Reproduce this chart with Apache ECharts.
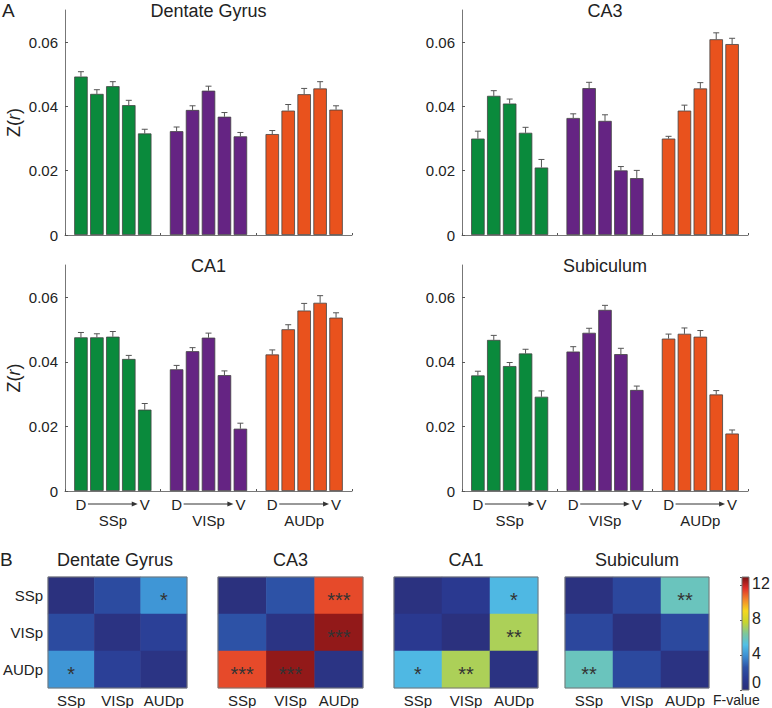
<!DOCTYPE html>
<html><head><meta charset="utf-8">
<script src="https://cdn.jsdelivr.net/npm/echarts@6/dist/echarts.min.js"></script>
<style>html,body{margin:0;padding:0;background:#fff}#c{width:772px;height:708px}</style>
</head><body><div id="c"></div>
<script>
// ---------- data ----------
const regions = ['Dentate Gyrus', 'CA3', 'CA1', 'Subiculum'];
const groups = ['SSp', 'VISp', 'AUDp'];
const barX = [1, 2, 3, 4, 5, 7, 8, 9, 10, 11, 13, 14, 15, 16, 17];
const groupSpan = [[1, 5, 3], [7, 11, 9], [13, 17, 15]];
const yTicks = [0, 0.02, 0.04, 0.06];

const dgMean = [0.0493, 0.0439, 0.0463, 0.0404, 0.0316, 0.0323, 0.0389, 0.0449, 0.0368, 0.0307, 0.0314, 0.0387, 0.0438, 0.0456, 0.0390];
const dgErr = [0.0015, 0.0013, 0.0014, 0.0015, 0.0013, 0.0013, 0.0013, 0.0014, 0.0013, 0.0012, 0.0011, 0.0019, 0.0018, 0.0021, 0.0012];
const ca3Mean = [0.0300, 0.0433, 0.0409, 0.0318, 0.0210, 0.0364, 0.0457, 0.0355, 0.0201, 0.0177, 0.0300, 0.0387, 0.0456, 0.0609, 0.0594];
const ca3Err = [0.0023, 0.0016, 0.0014, 0.0017, 0.0025, 0.0013, 0.0018, 0.0019, 0.0012, 0.0024, 0.0007, 0.0017, 0.0018, 0.0020, 0.0018];
const ca1Mean = [0.0476, 0.0476, 0.0478, 0.0409, 0.0252, 0.0377, 0.0433, 0.0475, 0.0359, 0.0193, 0.0423, 0.0501, 0.0559, 0.0583, 0.0537];
const ca1Err = [0.0015, 0.0011, 0.0016, 0.0011, 0.0019, 0.0012, 0.0011, 0.0014, 0.0013, 0.0017, 0.0014, 0.0014, 0.0022, 0.0022, 0.0015];
const subMean = [0.0358, 0.0468, 0.0387, 0.0426, 0.0292, 0.0432, 0.0490, 0.0561, 0.0424, 0.0313, 0.0472, 0.0487, 0.0478, 0.0299, 0.0178];
const subErr = [0.0013, 0.0014, 0.0011, 0.0013, 0.0018, 0.0015, 0.0014, 0.0014, 0.0018, 0.0012, 0.0014, 0.0018, 0.0019, 0.0012, 0.0011];

// F-values (rows/cols: SSp, VISp, AUDp)
const dgF = [[0.3, 2.2, 4.1], [2.2, 0.5, 1.6], [4.1, 1.6, 0.6]];
const ca3F = [[0.3, 2.6, 11.3], [2.6, 0.6, 12.7], [11.3, 12.7, 0.6]];
const ca1F = [[0.4, 1.2, 5.0], [1.2, 0.3, 7.3], [5.0, 7.3, 0.5]];
const subF = [[0.4, 2.0, 5.9], [2.0, 0.3, 2.1], [5.9, 2.1, 0.5]];
const dgSig = [['', '', '*'], ['', '', ''], ['*', '', '']];
const ca3Sig = [['', '', '***'], ['', '', '***'], ['***', '***', '']];
const ca1Sig = [['', '', '*'], ['', '', '**'], ['*', '**', '']];
const subSig = [['', '', '**'], ['', '', ''], ['**', '', '']];
const fTicks = [0, 4, 8, 12];
const fMax = 13;

// ---------- style ----------
const FONT = '"Liberation Sans", Arial, sans-serif';
const groupColors = ['#0A8A3C', '#652483', '#E9521D'];
const jet = ['#2B2E78', '#2A3A92', '#2D52A6', '#3C8ED3', '#52C0E6', '#7EC79A', '#C8D52E', '#F6D81E', '#F2862A', '#E0302A', '#7A1214'];
const axisGray = '#777';
const textColor = '#222';

const barMeans = [dgMean, ca3Mean, ca1Mean, subMean];
const barErrs = [dgErr, ca3Err, ca1Err, subErr];
const heatF = [dgF, ca3F, ca1F, subF];
const heatSig = [dgSig, ca3Sig, ca1Sig, subSig];

const barGrids = [
  {left: 65, top: 10, width: 287, height: 225},
  {left: 462, top: 10, width: 286, height: 225},
  {left: 65, top: 265, width: 287, height: 226},
  {left: 462, top: 265, width: 286, height: 226}
];
const heatLefts = [43, 218, 394, 565];
const heatGrids = heatLefts.map((l, i) => ({left: l, top: 577, width: i === 1 ? 145 : 144, height: 113}));
const cbGrid = {left: 742, top: 577, width: 7, height: 113};

const grid = [...barGrids, ...heatGrids, cbGrid];
const xAxis = [], yAxis = [], series = [];

// bar panels
barGrids.forEach((g, i) => {
  xAxis.push({
    type: 'value', gridIndex: i, min: 0, max: 18, interval: 6,
    axisLine: {show: true, lineStyle: {color: axisGray, width: 1}},
    axisTick: {show: true, inside: true, length: 2, lineStyle: {color: '#555'}},
    axisLabel: {show: false}, splitLine: {show: false}
  });
  const y = {
    type: 'value', gridIndex: i, min: 0, max: 0.07, interval: 0.02,
    axisLine: {show: true, lineStyle: {color: axisGray, width: 1}},
    axisTick: {show: true, inside: true, length: 3, lineStyle: {color: '#555'}},
    axisLabel: {
      fontSize: 15, fontFamily: FONT, color: textColor, margin: 7, showMaxLabel: false,
      formatter: v => (yTicks.some(t => Math.abs(t - v) < 1e-9) ? (v === 0 ? '0' : v.toFixed(2)) : '')
    },
    splitLine: {show: false}
  };
  if (i % 2 === 0) {
    y.name = 'Z({i|r})';
    y.nameLocation = 'middle';
    y.nameRotate = 90;
    y.nameGap = 42;
    y.nameTextStyle = {fontSize: 18, fontFamily: FONT, color: textColor, rich: {i: {fontSize: 18, fontStyle: 'italic', fontFamily: FONT, color: textColor}}};
  }
  yAxis.push(y);

  const means = barMeans[i], errs = barErrs[i];
  series.push({
    type: 'custom', xAxisIndex: i, yAxisIndex: i, silent: true, z: 1,
    data: barX.map((x, k) => [x, means[k], errs[k]]),
    renderItem: (params, api) => {
      const x = api.value(0), v = api.value(1), e = api.value(2);
      const p0 = api.coord([x, v]), p1 = api.coord([x, v + e]);
      const st = {stroke: '#555', lineWidth: 1};
      return {type: 'group', children: [
        {type: 'line', shape: {x1: p0[0], y1: p0[1], x2: p1[0], y2: p1[1]}, style: st},
        {type: 'line', shape: {x1: p1[0] - 3, y1: p1[1], x2: p1[0] + 3, y2: p1[1]}, style: st}
      ]};
    }
  });
  series.push({
    type: 'bar', xAxisIndex: i, yAxisIndex: i, barWidth: 13.5, silent: true, z: 2,
    itemStyle: {borderColor: '#444', borderWidth: 0.8},
    data: barX.map((x, k) => ({value: [x, means[k]], itemStyle: {color: groupColors[Math.floor(k / 5)]}}))
  });
  if (i >= 2) {
    series.push({
      type: 'custom', xAxisIndex: i, yAxisIndex: i, silent: true, clip: false,
      data: groupSpan.map((s, k) => [s[0], s[1], s[2], k]),
      renderItem: (params, api) => {
        const a = api.coord([api.value(0), 0]), b = api.coord([api.value(1), 0]), m = api.coord([api.value(2), 0]);
        const name = groups[api.value(3)];
        const ty = a[1] + 13, ny = a[1] + 29;
        const ts = (t, x, yy) => ({type: 'text', x: x, y: yy, style: {text: t, fill: textColor, font: '15px ' + FONT, textAlign: 'center', textVerticalAlign: 'middle'}});
        const ax1 = a[0] + 7, ax2 = b[0] - 7;
        return {type: 'group', children: [
          ts('D', a[0], ty), ts('V', b[0], ty), ts(name, m[0], ny),
          {type: 'line', shape: {x1: ax1, y1: ty, x2: ax2 - 4, y2: ty}, style: {stroke: '#333', lineWidth: 1}},
          {type: 'polygon', shape: {points: [[ax2, ty], [ax2 - 6, ty - 2.5], [ax2 - 6, ty + 2.5]]}, style: {fill: '#333'}}
        ]};
      }
    });
  }
});

// heatmaps
const heatSeriesIdx = [];
heatGrids.forEach((g, j) => {
  const gi = 4 + j;
  xAxis.push({
    type: 'category', gridIndex: gi, data: groups,
    axisLine: {show: false}, axisTick: {show: false},
    axisLabel: {interval: 0, hideOverlap: false, fontSize: 15, fontFamily: FONT, color: textColor, margin: 5}, splitLine: {show: false}
  });
  yAxis.push({
    type: 'category', gridIndex: gi, data: groups, inverse: true,
    axisLine: {show: false}, axisTick: {show: false},
    axisLabel: {show: j === 0, interval: 0, fontSize: 15, fontFamily: FONT, color: textColor, margin: 5}, splitLine: {show: false}
  });
  const F = heatF[j], S = heatSig[j];
  const data = [];
  F.forEach((row, r) => row.forEach((v, c) => data.push([c, r, v])));
  heatSeriesIdx.push(series.length);
  series.push({
    type: 'heatmap', xAxisIndex: gi, yAxisIndex: gi, silent: true, data: data,
    label: {show: true, formatter: p => S[p.data[1]][p.data[0]], fontSize: 20, fontFamily: FONT, color: '#333', offset: [0, 4]}
  });
  series.push({
    type: 'custom', xAxisIndex: gi, yAxisIndex: gi, silent: true, clip: false, z: 5,
    data: [[0, 0]],
    renderItem: (params, api) => {
      const p = api.coord([0, 0]), s = api.size([1, 1]);
      return {type: 'rect', shape: {x: p[0] - s[0] / 2, y: p[1] - s[1] / 2, width: s[0] * 3, height: s[1] * 3}, style: {fill: 'none', stroke: axisGray, lineWidth: 1}};
    }
  });
});

// colorbar
xAxis.push({type: 'value', gridIndex: 8, min: 0, max: 1, show: false});
yAxis.push({
  type: 'value', gridIndex: 8, min: 0, max: fMax, interval: 4, position: 'right',
  axisLine: {show: false},
  axisTick: {show: true, inside: true, length: 2, lineStyle: {color: '#555'}},
  axisLabel: {show: false},
  splitLine: {show: false}
});
series.push({
  type: 'custom', xAxisIndex: 8, yAxisIndex: 8, silent: true, z: 1,
  data: [[0, 0]],
  renderItem: (params, api) => {
    const p0 = api.coord([0, 0]), p1 = api.coord([1, fMax]);
    return {type: 'rect', shape: {x: p0[0], y: p1[1], width: p1[0] - p0[0], height: p0[1] - p1[1]},
      style: {stroke: axisGray, lineWidth: 1, fill: {type: 'linear', x: 0, y: 1, x2: 0, y2: 0,
        colorStops: jet.map((c, k) => ({offset: k / (jet.length - 1), color: c}))}}};
  }
});
// colorbar tick labels
series.push({
  type: 'custom', xAxisIndex: 8, yAxisIndex: 8, silent: true, clip: false, z: 3,
  data: fTicks.map(v => [v]),
  renderItem: (params, api) => {
    const v = api.value(0);
    const p = api.coord([1, v]);
    return {type: 'text', x: p[0] + 3, y: p[1] - (v === 0 ? 7.5 : 2),
      style: {text: String(v), fill: textColor, font: '16px ' + FONT, textAlign: 'left', textVerticalAlign: 'middle'}};
  }
});

// texts
const txt = (t, x, y, size, align) => ({type: 'text', x: x, y: y, silent: true,
  style: {text: t, fill: textColor, font: size + 'px ' + FONT, textAlign: align || 'center', textVerticalAlign: 'middle'}});
const graphic = [
  txt('A', 2, 10, 19, 'left'),
  txt('B', 0, 559, 19, 'left'),
  txt('F-value', 713, 700, 14, 'left')
];
barGrids.forEach((g, i) => graphic.push(txt(regions[i], g.left + g.width / 2, g.top + 1, 18)));
heatGrids.forEach((g, j) => graphic.push(txt(regions[j], g.left + g.width / 2, 560, 18)));

const chart = echarts.init(document.getElementById('c'), null, {renderer: 'svg'});
chart.setOption({
  animation: false,
  backgroundColor: '#fff',
  textStyle: {fontFamily: FONT},
  grid: grid,
  xAxis: xAxis,
  yAxis: yAxis,
  visualMap: {type: 'continuous', show: false, min: 0, max: fMax, dimension: 2, seriesIndex: heatSeriesIdx, inRange: {color: jet}},
  graphic: graphic,
  series: series
});
</script>
</body></html>
